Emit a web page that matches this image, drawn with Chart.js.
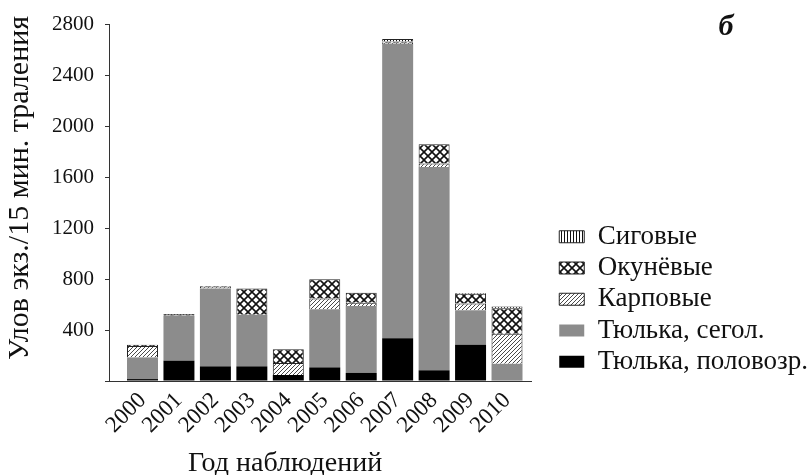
<!DOCTYPE html>
<html>
<head>
<meta charset="utf-8">
<script src="https://cdn.jsdelivr.net/npm/chart.js@4.4.1/dist/chart.umd.min.js"></script>
<style>
  html, body { margin: 0; padding: 0; background: #fff; }
  #wrap { width: 812px; height: 475px; position: relative; }
</style>
</head>
<body>
<div id="wrap"><canvas id="c"></canvas></div>
<script>
// Catch per 15-minute trawl, by year and fish group
const years = ['2000', '2001', '2002', '2003', '2004', '2005', '2006', '2007', '2008', '2009', '2010'];
const tyulkaAdult = [15, 160, 115, 115, 47, 107, 63, 335, 84, 285, 5];
const tyulkaYoung = [170, 350, 610, 405, 0, 455, 525, 2308, 1595, 270, 130];
const carp = [90, 0, 15, 0, 95, 86, 26, 10, 26, 52, 235];
const perch = [10, 5, 5, 205, 108, 151, 78, 10, 151, 78, 200];
const whitefish = [0, 10, 0, 0, 0, 0, 0, 20, 0, 5, 15];
const yTicks = [400, 800, 1200, 1600, 2000, 2400, 2800];

const SERIF = '"Liberation Serif", "Times New Roman", serif';

function makePattern(size, draw) {
  const c = document.createElement('canvas');
  c.width = size; c.height = size;
  const g = c.getContext('2d');
  g.fillStyle = '#fff';
  g.fillRect(0, 0, size, size);
  draw(g, size);
  return g.createPattern(c, 'repeat');
}
// diagonal "/" hatching
const carpFill = makePattern(4, (g, s) => {
  g.strokeStyle = '#4a4a4a'; g.lineWidth = 1;
  g.beginPath();
  g.moveTo(-1, s + 1); g.lineTo(s + 1, -1);
  g.moveTo(-1, 1); g.lineTo(1, -1);
  g.moveTo(s - 1, s + 1); g.lineTo(s + 1, s - 1);
  g.stroke();
});
// diagonal cross lattice
const perchFill = makePattern(8, (g, s) => {
  g.strokeStyle = '#111'; g.lineWidth = 1.6;
  g.beginPath();
  g.moveTo(-1, -1); g.lineTo(s + 1, s + 1);
  g.moveTo(s + 1, -1); g.lineTo(-1, s + 1);
  g.stroke();
});
// vertical stripes
const whitefishFill = makePattern(3, (g, s) => {
  g.fillStyle = '#111';
  g.fillRect(0, 0, 1, s);
});

const pts = arr => arr.map((v, i) => ({ x: i, y: v }));

const textPlugin = {
  id: 'texts',
  afterDraw(chart) {
    const c = chart.ctx;
    c.save();
    c.fillStyle = '#111';
    c.font = '28px ' + SERIF;
    c.textAlign = 'center';
    c.textBaseline = 'alphabetic';
    c.fillText('Год наблюдений', 285, 471);
    c.translate(20, 188);
    c.rotate(-Math.PI / 2);
    c.font = '30px ' + SERIF;
    c.textBaseline = 'middle';
    c.fillText('Улов экз./15 мин. траления', 0, 0);
    c.restore();
    c.save();
    c.fillStyle = '#111';
    c.font = 'italic bold 30px ' + SERIF;
    c.textAlign = 'center';
    c.textBaseline = 'alphabetic';
    c.fillText('б', 726, 35);
    c.restore();
  }
};

new Chart(document.getElementById('c'), {
  type: 'bar',
  data: {
    datasets: [
      { label: 'Тюлька, половозр.', data: pts(tyulkaAdult), backgroundColor: '#000', borderWidth: 0 },
      { label: 'Тюлька, сегол.', data: pts(tyulkaYoung), backgroundColor: '#8c8c8c', borderWidth: 0 },
      { label: 'Карповые', data: pts(carp), backgroundColor: carpFill, borderColor: '#222', borderWidth: 1 },
      { label: 'Окунёвые', data: pts(perch), backgroundColor: perchFill, borderColor: '#222', borderWidth: 1 },
      { label: 'Сиговые', data: pts(whitefish), backgroundColor: whitefishFill, borderColor: '#222', borderWidth: 1 }
    ]
  },
  options: {
    responsive: true,
    maintainAspectRatio: false,
    animation: false,
    categoryPercentage: 1,
    barPercentage: 0.85,
    layout: { padding: { left: 0, right: 0, top: 24, bottom: 0 } },
    plugins: {
      legend: {
        position: 'right',
        align: 'start',
        reverse: true,
        maxWidth: 257,
        title: { display: true, text: '', font: { size: 12 }, padding: { top: 180.6, bottom: 0 } },
        labels: {
          boxWidth: 25,
          boxHeight: 12,
          padding: 4.25,
          color: '#111',
          font: { family: SERIF, size: 27 }
        }
      },
      tooltip: { enabled: false }
    },
    scales: {
      x: {
        type: 'linear',
        stacked: true,
        offset: false,
        min: -0.919,
        max: 10.658,
        afterBuildTicks: s => { s.ticks = years.map((_, i) => ({ value: i })); },
        afterFit: s => { s.height = 94; },
        grid: { display: true, offset: false, drawOnChartArea: false, drawTicks: false },
        border: { display: true, color: '#333', width: 1 },
        ticks: {
          callback: v => years[v],
          autoSkip: false,
          minRotation: 45,
          maxRotation: 45,
          padding: 6,
          color: '#111',
          font: { family: SERIF, size: 23 }
        }
      },
      y: {
        stacked: true,
        min: 0,
        max: 2800,
        afterBuildTicks: s => { s.ticks = [0].concat(yTicks).map(v => ({ value: v })); },
        afterFit: s => { s.width = 109; },
        grid: { display: true, drawOnChartArea: false, drawTicks: true, tickLength: 4, color: '#333' },
        border: { display: true, color: '#333', width: 1 },
        ticks: {
          callback: v => (v === 0 ? '' : String(v)),
          padding: 11,
          color: '#111',
          font: { family: SERIF, size: 21 }
        }
      },
      gap: {
        type: 'linear',
        position: 'right',
        display: true,
        grid: { display: false },
        border: { display: false },
        ticks: { display: false },
        afterFit: s => { s.width = 24; }
      }
    }
  },
  plugins: [textPlugin]
});
</script>
</body>
</html>
